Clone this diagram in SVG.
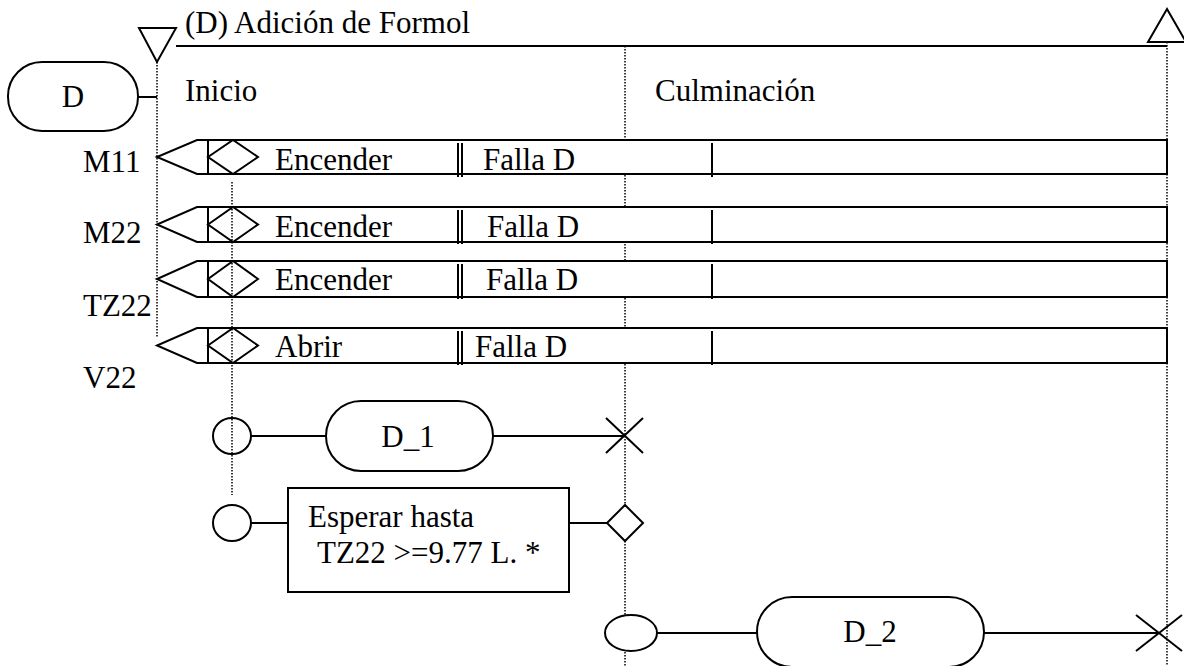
<svg xmlns="http://www.w3.org/2000/svg" width="1184" height="666" viewBox="0 0 1184 666">
<style>
text{font-family:"Liberation Serif","Times New Roman",serif;font-size:31px;fill:#000}
.s{fill:none;stroke:#000;stroke-width:2}
.w{fill:#fff;stroke:#000;stroke-width:2}
.d{fill:none;stroke:#000;stroke-width:1.5;stroke-dasharray:1.5 1.5}
.c{text-anchor:middle}
</style>
<rect width="1184" height="666" fill="#fff"/>
<g id="lifelines">
<line class="d" x1="157" y1="62" x2="157" y2="337"/>
<line class="d" x1="625" y1="46" x2="625" y2="666"/>
<line class="d" x1="1167" y1="42" x2="1167" y2="666"/>
</g>
<g id="header">
<polygon class="w" points="139,28 176,28 157,62"/>
<polygon class="w" points="1148,42 1186,42 1167,9"/>
<line class="s" x1="176" y1="46" x2="1167" y2="46"/>
<text x="185" y="33">(D) Adición de Formol</text>
<text x="185" y="101">Inicio</text>
<text x="655" y="101">Culminación</text>
</g>
<g id="nodeD">
<rect class="w" x="8" y="62" width="130" height="69" rx="34" ry="34"/>
<text class="c" x="73" y="107">D</text>
</g>
<g id="labels">
<text x="83" y="172">M11</text>
<text x="83" y="243">M22</text>
<text x="83" y="316">TZ22</text>
<text x="83" y="388">V22</text>
</g>
<g id="rowM11">
<rect class="w" x="208" y="140" width="959" height="34"/>
<path class="s" d="M208 140H197L157 157L197 174H208"/>
<polygon class="s" points="208,157 233,140 258,157 233,174"/>
<line class="s" x1="458" y1="143" x2="458" y2="177"/><line class="s" x1="462" y1="143" x2="462" y2="177"/>
<line class="s" x1="712" y1="143" x2="712" y2="177"/>
<text x="275" y="170">Encender</text>
<text x="483" y="170">Falla D</text>
</g>
<g id="rowM22">
<rect class="w" x="208" y="207" width="959" height="35"/>
<path class="s" d="M208 207H197L157 224.5L197 242H208"/>
<polygon class="s" points="208,224.5 233,207 258,224.5 233,242"/>
<line class="s" x1="458" y1="210" x2="458" y2="244"/><line class="s" x1="462" y1="210" x2="462" y2="244"/>
<line class="s" x1="712" y1="210" x2="712" y2="244"/>
<text x="275" y="237">Encender</text>
<text x="487" y="237">Falla D</text>
</g>
<g id="rowTZ22">
<rect class="w" x="208" y="261" width="959" height="36"/>
<path class="s" d="M208 261H197L157 279L197 297H208"/>
<polygon class="s" points="208,279 233,261 258,279 233,297"/>
<line class="s" x1="458" y1="264" x2="458" y2="299"/><line class="s" x1="462" y1="264" x2="462" y2="299"/>
<line class="s" x1="712" y1="264" x2="712" y2="299"/>
<text x="275" y="290">Encender</text>
<text x="486" y="290">Falla D</text>
</g>
<g id="rowV22">
<rect class="w" x="208" y="328" width="959" height="35"/>
<path class="s" d="M208 328H197L157 345.5L197 363H208"/>
<polygon class="s" points="208,345.5 233,328 258,345.5 233,363"/>
<line class="s" x1="458" y1="331" x2="458" y2="365"/><line class="s" x1="462" y1="331" x2="462" y2="365"/>
<line class="s" x1="712" y1="331" x2="712" y2="365"/>
<text x="275" y="357">Abrir</text>
<text x="475" y="357">Falla D</text>
</g>
<g id="connectors">
<line class="s" x1="138" y1="97" x2="157" y2="97"/>
<line class="s" x1="251" y1="436" x2="326" y2="436"/>
<line class="s" x1="493" y1="436" x2="624" y2="436"/>
<line class="s" x1="251" y1="523" x2="288" y2="523"/>
<line class="s" x1="569" y1="523" x2="607" y2="523"/>
<line class="s" x1="657" y1="633" x2="757" y2="633"/>
<line class="s" x1="984" y1="633" x2="1159" y2="633"/>
</g>
<g id="nodeD1">
<rect class="w" x="326" y="401" width="167" height="70" rx="35" ry="35"/>
<text class="c" x="408" y="447">D_1</text>
</g>
<g id="startD1"><ellipse class="w" cx="232" cy="436" rx="19" ry="18"/></g>
<g id="endD1">
<line class="s" x1="606" y1="418" x2="643" y2="453"/>
<line class="s" x1="606" y1="453" x2="643" y2="418"/>
</g>
<g id="startWait"><ellipse class="w" cx="232" cy="523" rx="19" ry="18"/></g>
<g id="nodeWait">
<rect class="w" x="288" y="488" width="281" height="104"/>
<text x="308" y="527">Esperar hasta</text>
<text x="317" y="563">TZ22 &gt;=9.77 L. *</text>
</g>
<g id="endWait"><polygon class="w" points="607,523 625,505 643,523 625,541"/></g>
<g id="startD2"><ellipse class="w" cx="631" cy="633" rx="26" ry="18"/></g>
<g id="nodeD2">
<rect class="w" x="757" y="597" width="227" height="70" rx="35" ry="35"/>
<text class="c" x="870" y="642">D_2</text>
</g>
<g id="endD2">
<line class="s" x1="1136" y1="615" x2="1182" y2="651"/>
<line class="s" x1="1136" y1="651" x2="1182" y2="615"/>
</g>
<g id="lifelineInicio">
<line class="d" x1="232" y1="182" x2="232" y2="495"/>
</g>
</svg>
